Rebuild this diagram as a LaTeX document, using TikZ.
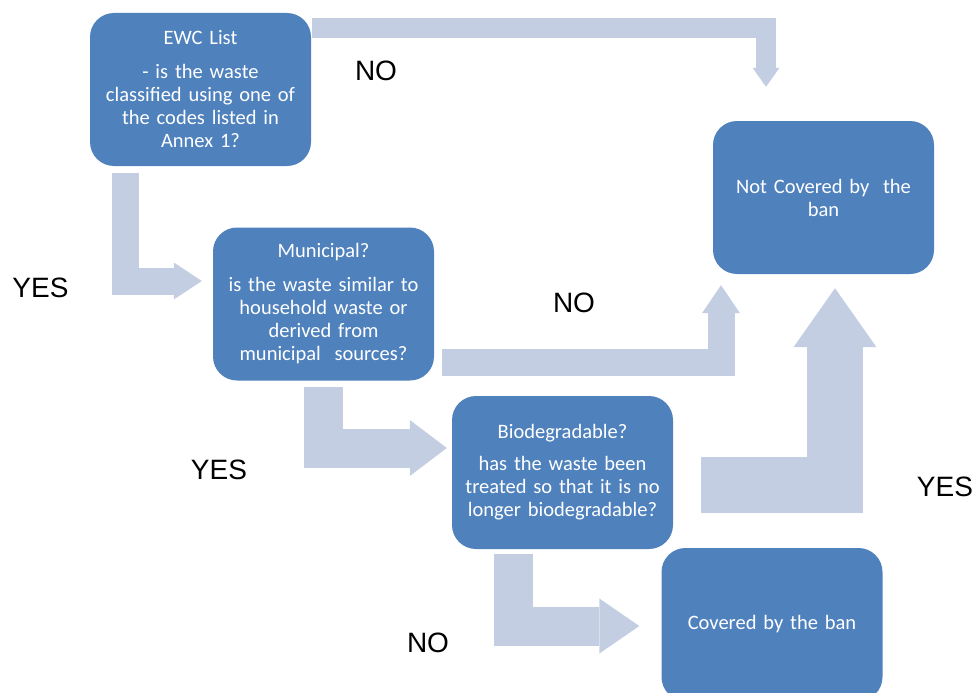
\documentclass[tikz,border=0pt]{standalone}
\usepackage{fontspec}
\setmainfont{Carlito}
\newfontfamily\labelfont{Liberation Sans}
\usetikzlibrary{arrows.meta,calc}
\definecolor{boxblue}{HTML}{4F81BD}
\definecolor{arrowblue}{HTML}{C4CEE2}
\tikzset{
  question/.style={fill=boxblue, text=white, rounded corners=24pt,
    minimum width=221pt, minimum height=153pt, text width=212pt,
    align=center, inner sep=0pt, font=\fontsize{20.5}{23}\selectfont},
  answer/.style={inner sep=0pt, font=\labelfont\fontsize{28}{34}\selectfont},
  flowarrow/.style n args={3}{draw=arrowblue, line width=#1pt,
    -{Triangle[width=#2pt,length=#3pt,line width=0pt]}}
}
\begin{document}
\begin{tikzpicture}[x=1pt,y=-1pt]
                \clip (0,0) rectangle (974,693);
                \node[question] (ewc) at (200.5,89.5) {EWC List\\[11pt]- is the waste\\classified using one of\\the codes listed in\\Annex 1?};
                \node[question] (notcov) at (823.5,197.5) {Not Covered by\ \ the\\ban};
                \node[question] (mun) at (323.5,304) {Municipal?\\[11pt]is the waste similar to\\household waste or\\derived from\\municipal\ \ sources?};
                \node[question] (bio) at (562.5,472.5) {Biodegradable?\\[9pt]has the waste been\\treated so that it is no\\longer biodegradable?};
                \node[question] (cov) at (772,624.5) {Covered by the ban};
                \draw[flowarrow={20}{27}{19}] ($(ewc.north east)+(1,15.5)$) -| ($(notcov.north)+(-57.5,-34)$);
                \draw[flowarrow={27}{37}{28}] ($(ewc.south west)+(35.5,7)$) |- ($(mun.west)+(-11,-23)$);
                \draw[flowarrow={27}{38}{28}] ($(mun.east)+(8,58.5)$) -| ($(notcov.south)+(-102.5,11)$);
                \draw[flowarrow={39}{56}{37}] ($(mun.south)+(0,6)$) |- ($(bio.west)+(-5,-24.5)$);
                \draw[flowarrow={56}{83}{59}] ($(bio.east)+(28,12.5)$) -| ($(notcov.south)+(11.5,14)$);
                \draw[flowarrow={39}{55}{40}] ($(bio.south west)+(61.5,5)$) |- ($(cov.west)+(-22,1.5)$);
                \node[answer] (no1) at (376,71) {NO};
                \node[answer] (yes1) at (40.5,287.5) {YES};
                \node[answer] (no2) at (574,303) {NO};
                \node[answer] (yes2) at (219,470) {YES};
                \node[answer] (yes3) at (945,487) {YES};
                \node[answer] (no3) at (428,643) {NO};
\end{tikzpicture}
\end{document}
